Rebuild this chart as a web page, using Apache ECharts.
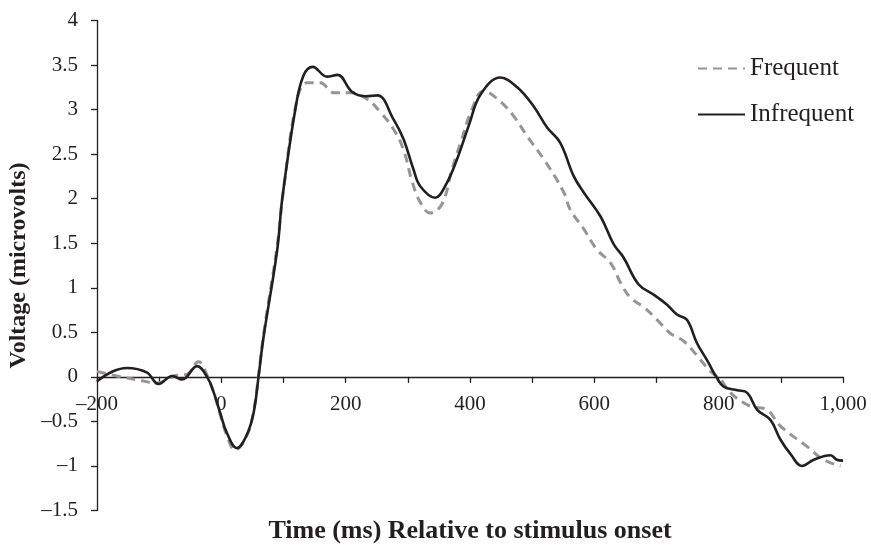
<!DOCTYPE html>
<html>
<head>
<meta charset="utf-8">
<script src="https://cdn.jsdelivr.net/npm/echarts@6/dist/echarts.min.js"></script>
<style>
  html, body { margin: 0; padding: 0; background: #fff; }
  #chart { width: 871px; height: 547px; }
</style>
</head>
<body>
<div id="chart"></div>
<script>
// ERP waveforms (ms, microvolts)
const frequentTime = [-200, -168, -130, -103, -77, -55, -37, -23, -12, -2, 9, 22, 41, 52, 60, 68, 90, 100, 122, 138, 159, 181, 208, 234, 256, 277, 293, 307, 320, 336, 355, 371, 385, 403, 422, 444, 470, 492, 519, 551, 561, 583, 604, 626, 642, 658, 680, 701, 722, 744, 765, 787, 803, 819, 851, 878, 899, 942, 969, 996];
const frequentVolt = [0.06, 0.01, -0.04, -0.07, 0.01, 0.03, 0.17, 0.02, -0.18, -0.42, -0.66, -0.82, -0.66, -0.38, 0.03, 0.48, 1.48, 2.1, 3.12, 3.30, 3.30, 3.19, 3.19, 3.12, 2.97, 2.78, 2.55, 2.19, 1.96, 1.84, 1.94, 2.33, 2.63, 3.0, 3.21, 3.12, 2.93, 2.70, 2.44, 2.07, 1.88, 1.66, 1.43, 1.28, 1.06, 0.89, 0.78, 0.64, 0.49, 0.40, 0.24, 0.06, -0.03, -0.18, -0.33, -0.37, -0.55, -0.78, -0.93, -1.00];

const infrequentTime = [-200, -175, -152, -120, -101, -79, -63, -39, -23, -12, -2, 9, 25, 41, 52, 60, 68, 90, 98, 119, 132, 147, 170, 187, 210, 232, 251, 277, 293, 309, 320, 344, 360, 379, 398, 417, 449, 476, 502, 524, 545, 567, 583, 610, 631, 647, 671, 696, 717, 733, 749, 765, 781, 797, 808, 830, 846, 862, 883, 899, 916, 934, 953, 980, 990, 1000];
const infrequentVolt = [-0.05, 0.06, 0.10, 0.05, -0.08, 0.01, -0.03, 0.12, 0.0, -0.18, -0.40, -0.63, -0.80, -0.65, -0.40, 0.01, 0.45, 1.43, 2.0, 3.0, 3.38, 3.48, 3.37, 3.39, 3.20, 3.15, 3.16, 2.89, 2.67, 2.33, 2.14, 2.01, 2.14, 2.44, 2.82, 3.17, 3.36, 3.25, 3.04, 2.80, 2.63, 2.25, 2.07, 1.80, 1.49, 1.34, 1.04, 0.92, 0.81, 0.70, 0.64, 0.38, 0.19, -0.01, -0.11, -0.15, -0.18, -0.37, -0.48, -0.70, -0.87, -1.00, -0.93, -0.88, -0.93, -0.94];

const xLabelStep = 200;

function pairs (xs, ys) {
  return xs.map((x, i) => [x, ys[i]]);
}

function fmtNum (v) {
  const s = Math.abs(v).toLocaleString('en-US');
  return v < 0 ? '\u2013' + s : s;
}

const ink = '#231f20';
const grey = '#939598';
const serif = '"Liberation Serif", "Times New Roman", serif';

const X_LABEL_MARGIN = 17;
const X_NAME_GAP = 141;

const chart = echarts.init(document.getElementById('chart'));
chart.setOption({
  animation: false,
  textStyle: { fontFamily: serif, color: ink },
  grid: { left: 97, right: 28, top: 20.5, bottom: 36.5, containLabel: false, outerBoundsMode: 'none' },
  legend: {
    orient: 'vertical',
    left: 692,
    top: 51,
    itemWidth: 47,
    itemHeight: 22,
    itemGap: 21,
    itemStyle: { color: 'rgba(0,0,0,0)', borderColor: 'rgba(0,0,0,0)', borderWidth: 0 },
    textStyle: { fontFamily: serif, fontSize: 25, color: ink },
    data: ['Frequent', 'Infrequent']
  },
  xAxis: {
    type: 'value',
    min: -200,
    max: 1000,
    interval: 100,
    axisLine: { onZero: true, lineStyle: { color: ink, width: 1.3 } },
    axisTick: { show: true, inside: false, length: 6, lineStyle: { color: ink, width: 1.3 } },
    axisLabel: {
      margin: X_LABEL_MARGIN,
      fontSize: 21,
      fontFamily: serif,
      color: ink,
      formatter: (v) => (v % xLabelStep === 0 ? fmtNum(v) : '')
    },
    splitLine: { show: false },
    name: 'Time (ms) Relative to stimulus onset',
    nameLocation: 'middle',
    nameGap: X_NAME_GAP,
    nameTextStyle: { fontFamily: serif, fontSize: 26, fontWeight: 'bold', color: ink }
  },
  yAxis: {
    type: 'value',
    min: -1.5,
    max: 4,
    interval: 0.5,
    axisLine: { show: true, onZero: false, lineStyle: { color: ink, width: 1.3 } },
    axisTick: { show: true, inside: false, length: 6, lineStyle: { color: ink, width: 1.3 } },
    axisLabel: {
      margin: 19,
      fontSize: 21,
      fontFamily: serif,
      color: ink,
      formatter: (v) => fmtNum(v)
    },
    splitLine: { show: false },
    name: 'Voltage (microvolts)',
    nameLocation: 'middle',
    nameGap: 58,
    nameTextStyle: { fontFamily: serif, fontSize: 24, fontWeight: 'bold', color: ink }
  },
  series: [
    {
      name: 'Frequent',
      type: 'line',
      smooth: 0.4,
      showSymbol: false,
      symbol: 'none',
      z: 2,
      lineStyle: { color: grey, width: 3, type: [9, 6] },
      itemStyle: { color: grey },
      data: pairs(frequentTime, frequentVolt)
    },
    {
      name: 'Infrequent',
      type: 'line',
      smooth: 0.4,
      showSymbol: false,
      symbol: 'none',
      z: 3,
      lineStyle: { color: ink, width: 2.6 },
      itemStyle: { color: ink },
      data: pairs(infrequentTime, infrequentVolt)
    }
  ]
});

// labels of the zero-crossing x axis sit at the grid bottom here, so pull them up to the zero line
const yMin = chart.getModel().getComponent('yAxis', 0).axis.scale.getExtent()[0];
const zeroShift = chart.convertToPixel({ yAxisIndex: 0 }, yMin) - chart.convertToPixel({ yAxisIndex: 0 }, 0);
chart.setOption({
  xAxis: {
    axisLabel: { margin: X_LABEL_MARGIN - zeroShift },
    nameGap: X_NAME_GAP - zeroShift
  }
});
</script>
</body>
</html>
